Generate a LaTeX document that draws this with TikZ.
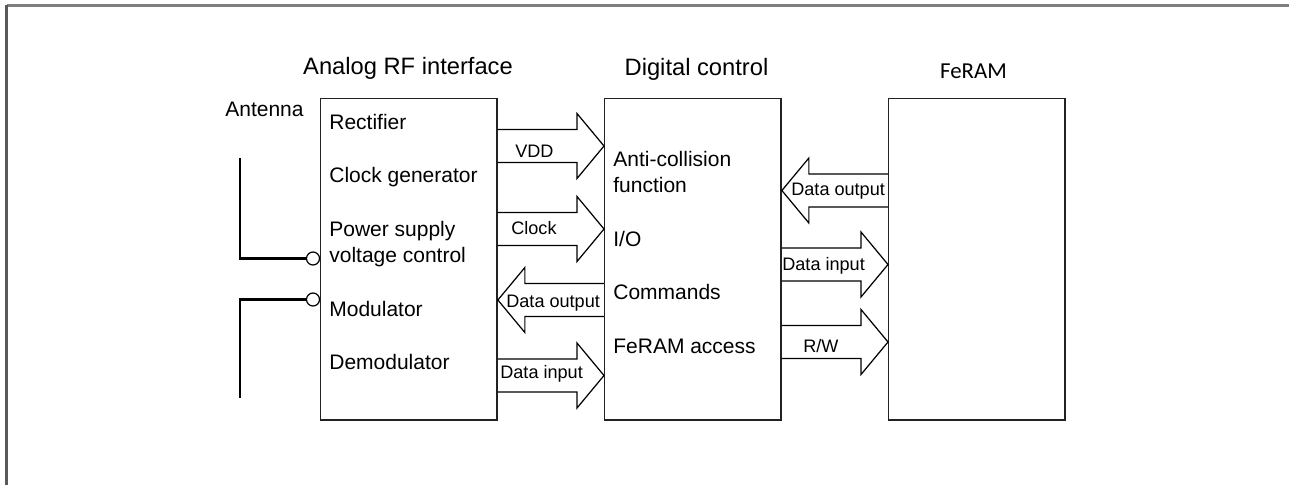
\documentclass[tikz,border=0pt]{standalone}
\usepackage{fontspec}
\setmainfont{Liberation Sans}
\newfontfamily\carlito{Carlito}
\usepackage{tikz}
\usetikzlibrary{calc}
\definecolor{marcogris}{HTML}{7F7F7F}
\definecolor{marcoosc}{HTML}{595959}
\definecolor{linea}{HTML}{222222}

\newcommand{\flecha}[2]{%
  \coordinate (fa) at (#1);
  \coordinate (fb) at (#2);
  \coordinate (fh) at ($(fb)!0.54cm!(fa)$);
  \draw[flechalinea] ($(fa)!0.33cm!90:(fb)$) -- ($(fh)!0.33cm!-90:(fa)$) -- ($(fh)!0.65cm!-90:(fa)$) -- (fb)
    -- ($(fh)!0.65cm!90:(fa)$) -- ($(fh)!0.33cm!90:(fa)$) -- ($(fa)!0.33cm!-90:(fb)$);}

\begin{document}
\begin{tikzpicture}[x=0.02cm,y=-0.02cm,
			bloque/.style={draw=linea,line width=0.8pt,anchor=north west,minimum width=3.53cm,minimum height=6.43cm,inner sep=0pt},
			titulo/.style={font=\fontsize{13.5}{16}\selectfont,inner sep=0pt,text height=0.716em,text depth=0pt},
			texto/.style={anchor=west,font=\fontsize{11.95}{14}\selectfont,inner sep=0pt,text height=0.716em,text depth=0pt},
			rotulo/.style={anchor=west,font=\fontsize{10.3}{12}\selectfont,inner sep=0pt,text height=0.716em,text depth=0pt},
			flechalinea/.style={draw=black,line width=0.7pt},
			antena/.style={draw=black,line width=1.4pt},
			borne/.style={draw=black,line width=0.7pt,circle,minimum size=0.26cm,inner sep=0pt,fill=white},
			marco/.style={line width=1.6pt}
			]
			\useasboundingbox (0,0) rectangle (1289,485);
			\draw[marco,draw=marcogris] (6.5,5.5) -- (1289,5.5);
			\draw[marco,draw=marcoosc] (6.5,5) -- (6.5,485);
			\node[bloque] (ana) at (320,98) {};
			\node[bloque] (dig) at (604,98) {};
			\node[bloque] (fram) at (888,98) {};
			\node[titulo] (tana) at (408,68.5) {Analog RF interface};
			\node[titulo] (tdig) at (696.5,69) {Digital control};
			\node[titulo,font=\carlito\fontsize{13}{16}\selectfont] (tfram) at (973.5,72.5) {FeRAM};
			\node[texto] (ant) at (225,110.5) {Antenna};
			\node[texto] (rect) at (329,123) {Rectifier};
			\node[texto] (clk) at (329,176) {Clock generator};
			\node[texto] (pow1) at (329,230) {Power supply};
			\node[texto] (pow2) at (329,256) {voltage control};
			\node[texto] (mod) at (329,310) {Modulator};
			\node[texto] (dem) at (329,363) {Demodulator};
			\node[texto] (anti1) at (613,160) {Anti-collision};
			\node[texto] (anti2) at (613,186) {function};
			\node[texto] (io) at (613,240.5) {I/O};
			\node[texto] (cmd) at (613,293.5) {Commands};
			\node[texto] (acc) at (613,347.5) {FeRAM access};
			\node[borne] (b1) at (313,258.5) {};
			\node[borne] (b2) at (313,299.5) {};
			\coordinate (antA) at (240,158);
			\coordinate (antB) at (240,398);
			\draw[antena] (antA) |- (b1);
			\draw[antena] (antB) |- (b2);
			\coordinate (f1) at (0,146);
			\coordinate (f2) at (0,229);
			\coordinate (f3) at (0,300);
			\coordinate (f4) at (0,375.5);
			\coordinate (g1) at (0,190.5);
			\coordinate (g2) at (0,264.5);
			\coordinate (g3) at (0,342);
			\flecha{ana.east |- f1}{dig.west |- f1}
			\flecha{ana.east |- f2}{dig.west |- f2}
			\flecha{dig.west |- f3}{ana.east |- f3}
			\flecha{ana.east |- f4}{dig.west |- f4}
			\flecha{fram.west |- g1}{dig.east |- g1}
			\flecha{dig.east |- g2}{fram.west |- g2}
			\flecha{dig.east |- g3}{fram.west |- g3}
			\node[rotulo] (lvdd) at (515,151) {VDD};
			\node[rotulo] (lclk) at (511,228.5) {Clock};
			\node[rotulo] (lout1) at (506,301.5) {Data output};
			\node[rotulo] (lin1) at (500,372.5) {Data input};
			\node[rotulo] (lout2) at (791,189.5) {Data output};
			\node[rotulo] (lin2) at (782,264) {Data input};
			\node[rotulo] (lrw) at (803,346.5) {R/W};
		\end{tikzpicture}
\end{document}
